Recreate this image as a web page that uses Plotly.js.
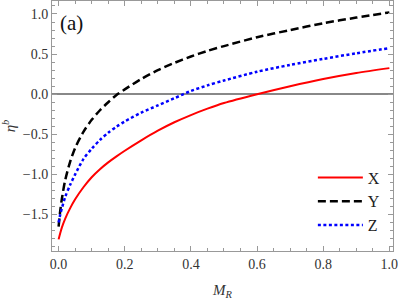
<!DOCTYPE html>
<html>
<head>
<meta charset="utf-8">
<script src="https://cdn.plot.ly/plotly-3.0.1.min.js"></script>
<style>html,body{margin:0;padding:0;background:#fff;}#chart{width:398px;height:300px;}</style>
</head>
<body>
<div id="chart"></div>
<script>
// M_R values
const mR = [0, 0.005, 0.01, 0.02, 0.035, 0.05, 0.075, 0.1, 0.125, 0.15, 0.175, 0.2, 0.25, 0.3, 0.35, 0.4, 0.45, 0.5, 0.6, 0.7, 0.8, 0.9, 1.0];
// series values (eta^b)
const seriesX = [-1.81, -1.73, -1.66, -1.55, -1.42, -1.31, -1.16, -1.035, -0.935, -0.85, -0.775, -0.705, -0.575, -0.455, -0.35, -0.26, -0.18, -0.11, 0.0, 0.10, 0.19, 0.265, 0.325];
const seriesY = [-1.65, -1.45, -1.30, -1.07, -0.84, -0.67, -0.47, -0.32, -0.20, -0.10, -0.01, 0.06, 0.19, 0.30, 0.39, 0.47, 0.54, 0.60, 0.71, 0.80, 0.885, 0.955, 1.02];
const seriesZ = [-1.60, -1.50, -1.42, -1.28, -1.13, -1.00, -0.81, -0.68, -0.57, -0.48, -0.405, -0.34, -0.23, -0.14, -0.05, 0.04, 0.11, 0.17, 0.28, 0.365, 0.44, 0.51, 0.575];
const names = ["X", "Y", "Z"];
const xTickVals = [0, 0.2, 0.4, 0.6, 0.8, 1.0];
const xTickText = ["0.0", "0.2", "0.4", "0.6", "0.8", "1.0"];
const yTickVals = [-1.5, -1.0, -0.5, 0, 0.5, 1.0];
const yTickText = ["\u22121.5", "\u22121.0", "\u22120.5", "0.0", "0.5", "1.0"];

const traces = [
  {x: mR, y: seriesX, name: names[0], legendgroup: "a", mode: "lines",
   line: {color: "#ff0000", width: 2, shape: "spline", smoothing: 0.8}},
  {x: mR, y: seriesY, name: names[1], legendgroup: "b", mode: "lines",
   line: {color: "#000000", width: 2.5, dash: "8px,4px", shape: "spline", smoothing: 0.8}},
  {x: mR, y: seriesZ, name: names[2], legendgroup: "c", mode: "lines",
   line: {color: "#0000ff", width: 2.5, dash: "3px,2.5px", shape: "spline", smoothing: 0.8}}
];

const font = "Liberation Serif";
const layout = {
  width: 398, height: 300,
  margin: {l: 52, r: 5, t: 1, b: 49},
  paper_bgcolor: "#ffffff", plot_bgcolor: "#ffffff",
  font: {family: font, size: 14, color: "#333333"},
  showlegend: true,
  legend: {x: 0.765, y: 0.362, xanchor: "left", yanchor: "top",
           bgcolor: "rgba(0,0,0,0)", font: {family: font, size: 16, color: "#222"},
           itemwidth: 45, tracegroupgap: 16, traceorder: "normal"},
  xaxis: {range: [-0.02, 1.011], showgrid: false, zeroline: false,
          showline: true, linecolor: "#999999", linewidth: 1, mirror: "ticks",
          ticks: "inside", ticklen: 5, tickcolor: "#999999",
          tickfont: {family: font, size: 14, color: "#333"},
          tickvals: xTickVals, ticktext: xTickText, ticklabeloverflow: "allow",
          minor: {dtick: 0.05, tick0: 0, ticks: "inside", ticklen: 3, tickcolor: "#999999"},
          title: {text: "<i>M</i><sub><i>R</i></sub>", font: {family: font, size: 15, color: "#333"}, standoff: 14}},
  yaxis: {range: [-1.955, 1.162], showgrid: false, zeroline: true, zerolinecolor: "#888888", zerolinewidth: 1.5,
          showline: true, linecolor: "#999999", linewidth: 1, mirror: "ticks",
          ticks: "inside", ticklen: 5, tickcolor: "#999999",
          tickfont: {family: font, size: 14, color: "#333"},
          tickvals: yTickVals, ticktext: yTickText,
          minor: {dtick: 0.1, tick0: 0, ticks: "inside", ticklen: 3, tickcolor: "#999999"},
          title: {text: "<i>\u03b7</i><sup><i>b</i></sup>", font: {family: font, size: 15, color: "#333"}, standoff: 13}},
  annotations: [{text: "(a)", xref: "paper", yref: "paper", x: 0.057, y: 0.912,
                 xanchor: "center", yanchor: "middle", showarrow: false,
                 font: {family: font, size: 21, color: "#111"}}]
};
Plotly.newPlot("chart", traces, layout, {displayModeBar: false, staticPlot: true});
</script>
</body>
</html>
